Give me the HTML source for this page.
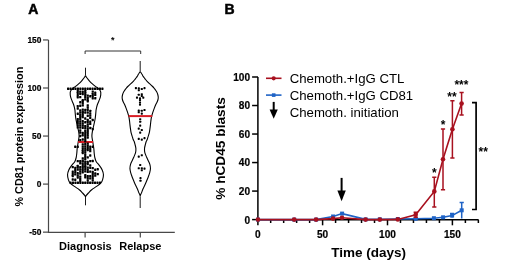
<!DOCTYPE html>
<html><head><meta charset="utf-8"><title>Figure</title><style>
html,body{margin:0;padding:0;background:#fff;}
body{width:520px;height:279px;overflow:hidden;}
svg{display:block;will-change:transform;}
text{font-family:"Liberation Sans",sans-serif;}
.pl{font-weight:bold;font-size:14px;stroke:#000;stroke-width:0.5px;}
.ta text{font-weight:bold;font-size:8.4px;text-anchor:end;stroke:#000;stroke-width:0.2px;}
.xa{font-weight:bold;font-size:11px;text-anchor:middle;}
.yla{font-weight:bold;font-size:10.8px;text-anchor:middle;}
.tb text{font-weight:bold;font-size:10.1px;text-anchor:end;stroke:#000;stroke-width:0.2px;}
.tbx text{font-weight:bold;font-size:10.1px;text-anchor:middle;stroke:#000;stroke-width:0.2px;}
.xb{font-weight:bold;font-size:13.5px;text-anchor:middle;}
.ylb{font-weight:bold;font-size:13.7px;text-anchor:middle;}
.lg{font-size:13.2px;}
.st{font-size:12px;font-weight:bold;text-anchor:middle;}
.st1{font-size:9px;font-weight:bold;text-anchor:middle;}
</style></head><body>
<svg width="520" height="279" viewBox="0 0 520 279">
<text x="28.2" y="14" class="pl">A</text>
<text x="224.6" y="14" class="pl">B</text>
<g stroke="#484848" stroke-width="1.2" fill="none">
<path d="M48.5,40 V232.3 H174.8"/>
<path d="M43,39.95 H48.5"/>
<path d="M43,88 H48.5"/>
<path d="M43,136.05 H48.5"/>
<path d="M43,184.1 H48.5"/>
<path d="M43,232.15 H48.5"/>
<path d="M85.1,232.3 V237.5 M140.3,232.3 V237.5"/>
</g>
<g class="ta">
<text x="41.4" y="43.05">150</text>
<text x="41.4" y="91.1">100</text>
<text x="41.4" y="139.15">50</text>
<text x="41.4" y="187.2">0</text>
<text x="41.4" y="235.25">-50</text>
</g>
<text x="85.4" y="250.2" class="xa">Diagnosis</text>
<text x="140.35" y="250.2" class="xa">Relapse</text>
<text transform="translate(22.6,136.6) rotate(-90)" class="yla">% CD81 protein expression</text>
<path d="M85.1,54 V51 H140.7 V54" stroke="#333" stroke-width="1" fill="none"/>
<text x="112.7" y="42.7" class="st1">*</text>
<g stroke="#000" stroke-width="1.1" fill="none">
<path d="M85.5,75.2 C85.5,75.8 85.74,75.93 86,76.4 C86.26,76.87 86.5,77.27 87.05,78 C87.6,78.73 88.46,79.87 89.3,80.8 C90.14,81.73 91.08,82.67 92.1,83.6 C93.12,84.53 94.4,85.62 95.4,86.4 C96.4,87.18 97.32,87.62 98.1,88.3 C98.88,88.98 99.65,89.78 100.1,90.5 C100.55,91.22 100.75,91.53 100.8,92.6 C100.85,93.67 100.73,95.47 100.4,96.9 C100.07,98.33 99.35,99.77 98.8,101.2 C98.25,102.63 97.55,104.07 97.1,105.5 C96.65,106.93 96.3,108.72 96.1,109.8 C95.9,110.88 96.05,110.55 95.9,112 C95.75,113.45 95.54,116.35 95.2,118.5 C94.86,120.65 94.32,122.75 93.85,124.9 C93.38,127.05 92.73,129.55 92.4,131.4 C92.08,133.25 91.88,134.52 91.9,136 C91.92,137.48 92.28,138.87 92.5,140.3 C92.72,141.73 92.98,143.17 93.2,144.6 C93.42,146.03 93.68,147.47 93.85,148.9 C94.02,150.33 94.04,151.77 94.2,153.2 C94.36,154.63 94.46,156.07 94.8,157.5 C95.14,158.93 95.57,160.57 96.25,161.8 C96.93,163.03 97.91,163.55 98.9,164.9 C99.89,166.25 101.44,168.25 102.2,169.9 C102.96,171.55 103.39,173.15 103.45,174.8 C103.51,176.45 103,178.42 102.55,179.8 C102.1,181.18 101.74,182 100.75,183.1 C99.76,184.2 98.11,185.3 96.6,186.4 C95.09,187.5 93.07,188.6 91.7,189.7 C90.33,190.8 89.3,192.05 88.4,193 C87.5,193.95 86.78,194.73 86.3,195.4 C85.82,196.07 85.5,196.2 85.5,197 C85.5,196.2 85.18,196.07 84.7,195.4 C84.22,194.73 83.5,193.95 82.6,193 C81.7,192.05 80.67,190.8 79.3,189.7 C77.93,188.6 75.91,187.5 74.4,186.4 C72.89,185.3 71.24,184.2 70.25,183.1 C69.26,182 68.9,181.18 68.45,179.8 C68,178.42 67.49,176.45 67.55,174.8 C67.61,173.15 68.04,171.55 68.8,169.9 C69.56,168.25 71.11,166.25 72.1,164.9 C73.09,163.55 74.07,163.03 74.75,161.8 C75.43,160.57 75.86,158.93 76.2,157.5 C76.54,156.07 76.64,154.63 76.8,153.2 C76.96,151.77 76.98,150.33 77.15,148.9 C77.32,147.47 77.58,146.03 77.8,144.6 C78.02,143.17 78.28,141.73 78.5,140.3 C78.72,138.87 79.08,137.48 79.1,136 C79.12,134.52 78.92,133.25 78.6,131.4 C78.27,129.55 77.62,127.05 77.15,124.9 C76.68,122.75 76.14,120.65 75.8,118.5 C75.46,116.35 75.25,113.45 75.1,112 C74.95,110.55 75.1,110.88 74.9,109.8 C74.7,108.72 74.35,106.93 73.9,105.5 C73.45,104.07 72.75,102.63 72.2,101.2 C71.65,99.77 70.93,98.33 70.6,96.9 C70.27,95.47 70.15,93.67 70.2,92.6 C70.25,91.53 70.45,91.22 70.9,90.5 C71.35,89.78 72.12,88.98 72.9,88.3 C73.68,87.62 74.6,87.18 75.6,86.4 C76.6,85.62 77.88,84.53 78.9,83.6 C79.92,82.67 80.86,81.73 81.7,80.8 C82.54,79.87 83.4,78.73 83.95,78 C84.5,77.27 84.74,76.87 85,76.4 C85.26,75.93 85.5,75.8 85.5,75.2Z"/>
<path d="M85.5,67.7 V75.2 M85.5,197 V205.3" stroke-width="0.9"/>
<path d="M140.2,71.2 C140.2,71.75 140.46,71.88 140.7,72.3 C140.94,72.72 141.35,73.22 141.65,73.7 C141.95,74.18 142.22,74.72 142.5,75.2 C142.78,75.68 143.03,76.13 143.35,76.6 C143.67,77.07 144.04,77.52 144.4,78 C144.76,78.48 145.1,79 145.5,79.5 C145.9,80 146.37,80.52 146.8,81 C147.23,81.48 147.52,81.85 148.1,82.4 C148.68,82.95 149.55,83.62 150.3,84.3 C151.05,84.98 151.92,85.78 152.6,86.5 C153.28,87.22 153.83,87.9 154.4,88.6 C154.97,89.3 155.53,89.98 156,90.7 C156.47,91.42 156.88,92.18 157.2,92.9 C157.52,93.62 157.72,94.28 157.9,95 C158.07,95.72 158.23,96.45 158.25,97.2 C158.27,97.95 158.19,98.7 158,99.5 C157.81,100.3 157.45,101.2 157.1,102 C156.75,102.8 156.39,103.2 155.9,104.3 C155.41,105.4 154.69,107.17 154.15,108.6 C153.61,110.03 153.1,111.47 152.65,112.9 C152.2,114.33 151.76,115.77 151.45,117.2 C151.14,118.63 150.96,120.32 150.8,121.5 C150.64,122.68 150.64,123.12 150.5,124.3 C150.36,125.48 150.16,127.17 149.95,128.6 C149.74,130.03 149.58,131.47 149.25,132.9 C148.92,134.33 148.29,136.1 147.95,137.2 C147.61,138.3 147.49,138.78 147.2,139.5 C146.91,140.22 146.5,140.7 146.2,141.5 C145.9,142.3 145.68,143.12 145.4,144.3 C145.12,145.48 144.58,147.17 144.5,148.6 C144.42,150.03 144.54,151.47 144.9,152.9 C145.26,154.33 146.15,156.02 146.65,157.2 C147.15,158.38 147.37,158.82 147.9,160 C148.43,161.18 149.42,162.87 149.85,164.3 C150.28,165.73 150.48,167.17 150.45,168.6 C150.42,170.03 150.03,171.47 149.65,172.9 C149.27,174.33 148.69,175.77 148.15,177.2 C147.61,178.63 146.97,180.15 146.4,181.5 C145.83,182.85 145.32,184.05 144.75,185.3 C144.18,186.55 143.47,187.78 142.95,189 C142.42,190.22 142.06,191.38 141.6,192.6 C141.14,193.82 140.2,194.45 140.2,196.3 C140.2,194.45 139.26,193.82 138.8,192.6 C138.34,191.38 137.97,190.22 137.45,189 C136.92,187.78 136.22,186.55 135.65,185.3 C135.07,184.05 134.57,182.85 134,181.5 C133.43,180.15 132.79,178.63 132.25,177.2 C131.71,175.77 131.13,174.33 130.75,172.9 C130.37,171.47 129.98,170.03 129.95,168.6 C129.92,167.17 130.12,165.73 130.55,164.3 C130.97,162.87 131.97,161.18 132.5,160 C133.03,158.82 133.25,158.38 133.75,157.2 C134.25,156.02 135.14,154.33 135.5,152.9 C135.86,151.47 135.98,150.03 135.9,148.6 C135.82,147.17 135.28,145.48 135,144.3 C134.72,143.12 134.5,142.3 134.2,141.5 C133.9,140.7 133.49,140.22 133.2,139.5 C132.91,138.78 132.79,138.3 132.45,137.2 C132.11,136.1 131.48,134.33 131.15,132.9 C130.82,131.47 130.66,130.03 130.45,128.6 C130.24,127.17 130.04,125.48 129.9,124.3 C129.76,123.12 129.76,122.68 129.6,121.5 C129.44,120.32 129.26,118.63 128.95,117.2 C128.64,115.77 128.2,114.33 127.75,112.9 C127.3,111.47 126.79,110.03 126.25,108.6 C125.71,107.17 124.99,105.4 124.5,104.3 C124.01,103.2 123.65,102.8 123.3,102 C122.95,101.2 122.59,100.3 122.4,99.5 C122.21,98.7 122.13,97.95 122.15,97.2 C122.17,96.45 122.32,95.72 122.5,95 C122.67,94.28 122.88,93.62 123.2,92.9 C123.52,92.18 123.93,91.42 124.4,90.7 C124.87,89.98 125.43,89.3 126,88.6 C126.57,87.9 127.12,87.22 127.8,86.5 C128.48,85.78 129.35,84.98 130.1,84.3 C130.85,83.62 131.72,82.95 132.3,82.4 C132.88,81.85 133.17,81.48 133.6,81 C134.03,80.52 134.5,80 134.9,79.5 C135.3,79 135.64,78.48 136,78 C136.36,77.52 136.73,77.07 137.05,76.6 C137.37,76.13 137.62,75.68 137.9,75.2 C138.18,74.72 138.45,74.18 138.75,73.7 C139.05,73.22 139.46,72.72 139.7,72.3 C139.94,71.88 140.2,71.75 140.2,71.2Z"/>
<path d="M140.2,61 V71.2 M140.2,196.3 V208" stroke-width="0.9"/>
</g>
<path d="M78.1,142 H93.1" stroke="#d81c24" stroke-width="2"/>
<path d="M128.5,116.1 H152.3" stroke="#d81c24" stroke-width="2"/>
<g fill="#000">
<rect x="76.65" y="89.71" width="2.2" height="2.4" rx="0.4"/>
<rect x="76.65" y="91.79" width="2.2" height="2.4" rx="0.4"/>
<rect x="76.65" y="93.96" width="2.2" height="2.4" rx="0.4"/>
<rect x="76.65" y="96.02" width="2.2" height="2.4" rx="0.4"/>
<rect x="79.15" y="90.4" width="2.2" height="2.4" rx="0.4"/>
<rect x="79.15" y="92.58" width="2.2" height="2.4" rx="0.4"/>
<rect x="79.15" y="95.9" width="2.2" height="2.4" rx="0.4"/>
<rect x="81.65" y="90.56" width="2.2" height="2.4" rx="0.4"/>
<rect x="81.65" y="92.76" width="2.2" height="2.4" rx="0.4"/>
<rect x="81.65" y="98.95" width="2.2" height="2.4" rx="0.4"/>
<rect x="84.15" y="89.75" width="2.2" height="2.4" rx="0.4"/>
<rect x="84.15" y="91.84" width="2.2" height="2.4" rx="0.4"/>
<rect x="84.15" y="93.84" width="2.2" height="2.4" rx="0.4"/>
<rect x="84.15" y="95.94" width="2.2" height="2.4" rx="0.4"/>
<rect x="84.15" y="98.18" width="2.2" height="2.4" rx="0.4"/>
<rect x="86.65" y="94.47" width="2.2" height="2.4" rx="0.4"/>
<rect x="86.65" y="96.7" width="2.2" height="2.4" rx="0.4"/>
<rect x="86.65" y="98.88" width="2.2" height="2.4" rx="0.4"/>
<rect x="89.15" y="94.99" width="2.2" height="2.4" rx="0.4"/>
<rect x="91.65" y="90.46" width="2.2" height="2.4" rx="0.4"/>
<rect x="91.65" y="92.74" width="2.2" height="2.4" rx="0.4"/>
<rect x="91.65" y="94.85" width="2.2" height="2.4" rx="0.4"/>
<rect x="91.65" y="97.12" width="2.2" height="2.4" rx="0.4"/>
<rect x="94.15" y="91.62" width="2.2" height="2.4" rx="0.4"/>
<rect x="94.15" y="93.64" width="2.2" height="2.4" rx="0.4"/>
<rect x="94.15" y="97.09" width="2.2" height="2.4" rx="0.4"/>
<rect x="76.65" y="105.06" width="2.2" height="2.4" rx="0.4"/>
<rect x="76.65" y="107.34" width="2.2" height="2.4" rx="0.4"/>
<rect x="79.15" y="101.09" width="2.2" height="2.4" rx="0.4"/>
<rect x="79.15" y="104.58" width="2.2" height="2.4" rx="0.4"/>
<rect x="79.15" y="109.34" width="2.2" height="2.4" rx="0.4"/>
<rect x="81.65" y="100.03" width="2.2" height="2.4" rx="0.4"/>
<rect x="81.65" y="102.12" width="2.2" height="2.4" rx="0.4"/>
<rect x="81.65" y="104.16" width="2.2" height="2.4" rx="0.4"/>
<rect x="81.65" y="108.4" width="2.2" height="2.4" rx="0.4"/>
<rect x="81.65" y="110.5" width="2.2" height="2.4" rx="0.4"/>
<rect x="84.15" y="108.75" width="2.2" height="2.4" rx="0.4"/>
<rect x="86.65" y="99.99" width="2.2" height="2.4" rx="0.4"/>
<rect x="86.65" y="104.15" width="2.2" height="2.4" rx="0.4"/>
<rect x="86.65" y="106.31" width="2.2" height="2.4" rx="0.4"/>
<rect x="86.65" y="108.51" width="2.2" height="2.4" rx="0.4"/>
<rect x="89.15" y="109.83" width="2.2" height="2.4" rx="0.4"/>
<rect x="76.65" y="112.48" width="2.2" height="2.4" rx="0.4"/>
<rect x="76.65" y="117.89" width="2.2" height="2.4" rx="0.4"/>
<rect x="76.65" y="120.03" width="2.2" height="2.4" rx="0.4"/>
<rect x="76.65" y="122.04" width="2.2" height="2.4" rx="0.4"/>
<rect x="76.65" y="124.14" width="2.2" height="2.4" rx="0.4"/>
<rect x="76.65" y="126.2" width="2.2" height="2.4" rx="0.4"/>
<rect x="79.15" y="111.39" width="2.2" height="2.4" rx="0.4"/>
<rect x="79.15" y="113.66" width="2.2" height="2.4" rx="0.4"/>
<rect x="79.15" y="115.78" width="2.2" height="2.4" rx="0.4"/>
<rect x="79.15" y="117.91" width="2.2" height="2.4" rx="0.4"/>
<rect x="79.15" y="120.16" width="2.2" height="2.4" rx="0.4"/>
<rect x="79.15" y="122.17" width="2.2" height="2.4" rx="0.4"/>
<rect x="79.15" y="124.19" width="2.2" height="2.4" rx="0.4"/>
<rect x="79.15" y="126.3" width="2.2" height="2.4" rx="0.4"/>
<rect x="81.65" y="111.61" width="2.2" height="2.4" rx="0.4"/>
<rect x="81.65" y="113.72" width="2.2" height="2.4" rx="0.4"/>
<rect x="81.65" y="115.9" width="2.2" height="2.4" rx="0.4"/>
<rect x="81.65" y="120.1" width="2.2" height="2.4" rx="0.4"/>
<rect x="81.65" y="122.37" width="2.2" height="2.4" rx="0.4"/>
<rect x="81.65" y="124.4" width="2.2" height="2.4" rx="0.4"/>
<rect x="81.65" y="126.59" width="2.2" height="2.4" rx="0.4"/>
<rect x="84.15" y="111.23" width="2.2" height="2.4" rx="0.4"/>
<rect x="84.15" y="117.26" width="2.2" height="2.4" rx="0.4"/>
<rect x="84.15" y="121.08" width="2.2" height="2.4" rx="0.4"/>
<rect x="84.15" y="124.92" width="2.2" height="2.4" rx="0.4"/>
<rect x="84.15" y="127.06" width="2.2" height="2.4" rx="0.4"/>
<rect x="86.65" y="111.24" width="2.2" height="2.4" rx="0.4"/>
<rect x="86.65" y="114.5" width="2.2" height="2.4" rx="0.4"/>
<rect x="86.65" y="118.75" width="2.2" height="2.4" rx="0.4"/>
<rect x="86.65" y="120.83" width="2.2" height="2.4" rx="0.4"/>
<rect x="86.65" y="123.13" width="2.2" height="2.4" rx="0.4"/>
<rect x="86.65" y="125.31" width="2.2" height="2.4" rx="0.4"/>
<rect x="86.65" y="127.51" width="2.2" height="2.4" rx="0.4"/>
<rect x="89.15" y="112.37" width="2.2" height="2.4" rx="0.4"/>
<rect x="89.15" y="114.47" width="2.2" height="2.4" rx="0.4"/>
<rect x="89.15" y="116.63" width="2.2" height="2.4" rx="0.4"/>
<rect x="89.15" y="120.62" width="2.2" height="2.4" rx="0.4"/>
<rect x="89.15" y="122.7" width="2.2" height="2.4" rx="0.4"/>
<rect x="89.15" y="126.79" width="2.2" height="2.4" rx="0.4"/>
<rect x="91.65" y="118.87" width="2.2" height="2.4" rx="0.4"/>
<rect x="91.65" y="127.89" width="2.2" height="2.4" rx="0.4"/>
<rect x="79.15" y="129.35" width="2.2" height="2.4" rx="0.4"/>
<rect x="79.15" y="131.45" width="2.2" height="2.4" rx="0.4"/>
<rect x="79.15" y="134.73" width="2.2" height="2.4" rx="0.4"/>
<rect x="79.15" y="138.97" width="2.2" height="2.4" rx="0.4"/>
<rect x="81.65" y="131.83" width="2.2" height="2.4" rx="0.4"/>
<rect x="81.65" y="134.08" width="2.2" height="2.4" rx="0.4"/>
<rect x="81.65" y="138.35" width="2.2" height="2.4" rx="0.4"/>
<rect x="84.15" y="129.72" width="2.2" height="2.4" rx="0.4"/>
<rect x="84.15" y="131.9" width="2.2" height="2.4" rx="0.4"/>
<rect x="84.15" y="133.95" width="2.2" height="2.4" rx="0.4"/>
<rect x="84.15" y="135.96" width="2.2" height="2.4" rx="0.4"/>
<rect x="84.15" y="138.08" width="2.2" height="2.4" rx="0.4"/>
<rect x="84.15" y="140.09" width="2.2" height="2.4" rx="0.4"/>
<rect x="86.65" y="129.68" width="2.2" height="2.4" rx="0.4"/>
<rect x="86.65" y="131.81" width="2.2" height="2.4" rx="0.4"/>
<rect x="86.65" y="133.99" width="2.2" height="2.4" rx="0.4"/>
<rect x="86.65" y="136.27" width="2.2" height="2.4" rx="0.4"/>
<rect x="81.65" y="143.21" width="2.2" height="2.4" rx="0.4"/>
<rect x="81.65" y="145.4" width="2.2" height="2.4" rx="0.4"/>
<rect x="81.65" y="147.56" width="2.2" height="2.4" rx="0.4"/>
<rect x="81.65" y="149.79" width="2.2" height="2.4" rx="0.4"/>
<rect x="81.65" y="151.83" width="2.2" height="2.4" rx="0.4"/>
<rect x="81.65" y="157.19" width="2.2" height="2.4" rx="0.4"/>
<rect x="81.65" y="159.39" width="2.2" height="2.4" rx="0.4"/>
<rect x="84.15" y="142.89" width="2.2" height="2.4" rx="0.4"/>
<rect x="84.15" y="145.16" width="2.2" height="2.4" rx="0.4"/>
<rect x="84.15" y="147.25" width="2.2" height="2.4" rx="0.4"/>
<rect x="84.15" y="149.26" width="2.2" height="2.4" rx="0.4"/>
<rect x="84.15" y="151.28" width="2.2" height="2.4" rx="0.4"/>
<rect x="84.15" y="153.56" width="2.2" height="2.4" rx="0.4"/>
<rect x="84.15" y="155.63" width="2.2" height="2.4" rx="0.4"/>
<rect x="84.15" y="157.92" width="2.2" height="2.4" rx="0.4"/>
<rect x="86.65" y="142.44" width="2.2" height="2.4" rx="0.4"/>
<rect x="86.65" y="144.55" width="2.2" height="2.4" rx="0.4"/>
<rect x="86.65" y="146.65" width="2.2" height="2.4" rx="0.4"/>
<rect x="86.65" y="148.75" width="2.2" height="2.4" rx="0.4"/>
<rect x="86.65" y="156.19" width="2.2" height="2.4" rx="0.4"/>
<rect x="89.15" y="147.9" width="2.2" height="2.4" rx="0.4"/>
<rect x="89.15" y="149.96" width="2.2" height="2.4" rx="0.4"/>
<rect x="89.15" y="154.37" width="2.2" height="2.4" rx="0.4"/>
<rect x="76.65" y="159.9" width="2.2" height="2.4" rx="0.4"/>
<rect x="76.65" y="164.75" width="2.2" height="2.4" rx="0.4"/>
<rect x="79.15" y="159.96" width="2.2" height="2.4" rx="0.4"/>
<rect x="79.15" y="162.03" width="2.2" height="2.4" rx="0.4"/>
<rect x="81.65" y="160.47" width="2.2" height="2.4" rx="0.4"/>
<rect x="81.65" y="162.76" width="2.2" height="2.4" rx="0.4"/>
<rect x="81.65" y="164.96" width="2.2" height="2.4" rx="0.4"/>
<rect x="84.15" y="160.53" width="2.2" height="2.4" rx="0.4"/>
<rect x="84.15" y="162.59" width="2.2" height="2.4" rx="0.4"/>
<rect x="84.15" y="164.66" width="2.2" height="2.4" rx="0.4"/>
<rect x="86.65" y="160.77" width="2.2" height="2.4" rx="0.4"/>
<rect x="86.65" y="162.87" width="2.2" height="2.4" rx="0.4"/>
<rect x="89.15" y="159.96" width="2.2" height="2.4" rx="0.4"/>
<rect x="89.15" y="164.13" width="2.2" height="2.4" rx="0.4"/>
<rect x="91.65" y="159.81" width="2.2" height="2.4" rx="0.4"/>
<rect x="71.65" y="165.89" width="2.2" height="2.4" rx="0.4"/>
<rect x="71.65" y="170.57" width="2.2" height="2.4" rx="0.4"/>
<rect x="71.65" y="172.64" width="2.2" height="2.4" rx="0.4"/>
<rect x="71.65" y="174.76" width="2.2" height="2.4" rx="0.4"/>
<rect x="71.65" y="178.29" width="2.2" height="2.4" rx="0.4"/>
<rect x="74.15" y="166.77" width="2.2" height="2.4" rx="0.4"/>
<rect x="74.15" y="168.92" width="2.2" height="2.4" rx="0.4"/>
<rect x="74.15" y="171.08" width="2.2" height="2.4" rx="0.4"/>
<rect x="74.15" y="173.18" width="2.2" height="2.4" rx="0.4"/>
<rect x="74.15" y="178.56" width="2.2" height="2.4" rx="0.4"/>
<rect x="76.65" y="166.29" width="2.2" height="2.4" rx="0.4"/>
<rect x="76.65" y="168.4" width="2.2" height="2.4" rx="0.4"/>
<rect x="76.65" y="172.08" width="2.2" height="2.4" rx="0.4"/>
<rect x="76.65" y="174.33" width="2.2" height="2.4" rx="0.4"/>
<rect x="76.65" y="176.36" width="2.2" height="2.4" rx="0.4"/>
<rect x="79.15" y="166.11" width="2.2" height="2.4" rx="0.4"/>
<rect x="79.15" y="168.14" width="2.2" height="2.4" rx="0.4"/>
<rect x="79.15" y="170.16" width="2.2" height="2.4" rx="0.4"/>
<rect x="79.15" y="172.34" width="2.2" height="2.4" rx="0.4"/>
<rect x="79.15" y="175.43" width="2.2" height="2.4" rx="0.4"/>
<rect x="79.15" y="177.51" width="2.2" height="2.4" rx="0.4"/>
<rect x="79.15" y="179.54" width="2.2" height="2.4" rx="0.4"/>
<rect x="81.65" y="166.55" width="2.2" height="2.4" rx="0.4"/>
<rect x="81.65" y="168.82" width="2.2" height="2.4" rx="0.4"/>
<rect x="81.65" y="171.05" width="2.2" height="2.4" rx="0.4"/>
<rect x="84.15" y="165.93" width="2.2" height="2.4" rx="0.4"/>
<rect x="84.15" y="167.98" width="2.2" height="2.4" rx="0.4"/>
<rect x="84.15" y="170.18" width="2.2" height="2.4" rx="0.4"/>
<rect x="84.15" y="174.04" width="2.2" height="2.4" rx="0.4"/>
<rect x="84.15" y="176.05" width="2.2" height="2.4" rx="0.4"/>
<rect x="86.65" y="166.41" width="2.2" height="2.4" rx="0.4"/>
<rect x="86.65" y="168.54" width="2.2" height="2.4" rx="0.4"/>
<rect x="86.65" y="170.64" width="2.2" height="2.4" rx="0.4"/>
<rect x="86.65" y="174.91" width="2.2" height="2.4" rx="0.4"/>
<rect x="86.65" y="177.06" width="2.2" height="2.4" rx="0.4"/>
<rect x="86.65" y="179.28" width="2.2" height="2.4" rx="0.4"/>
<rect x="89.15" y="166.59" width="2.2" height="2.4" rx="0.4"/>
<rect x="89.15" y="170.38" width="2.2" height="2.4" rx="0.4"/>
<rect x="89.15" y="174.92" width="2.2" height="2.4" rx="0.4"/>
<rect x="89.15" y="177.21" width="2.2" height="2.4" rx="0.4"/>
<rect x="91.65" y="166.9" width="2.2" height="2.4" rx="0.4"/>
<rect x="91.65" y="170.64" width="2.2" height="2.4" rx="0.4"/>
<rect x="91.65" y="172.72" width="2.2" height="2.4" rx="0.4"/>
<rect x="91.65" y="174.89" width="2.2" height="2.4" rx="0.4"/>
<rect x="91.65" y="177.11" width="2.2" height="2.4" rx="0.4"/>
<rect x="91.65" y="179.22" width="2.2" height="2.4" rx="0.4"/>
<rect x="94.15" y="168.57" width="2.2" height="2.4" rx="0.4"/>
<rect x="94.15" y="172.35" width="2.2" height="2.4" rx="0.4"/>
<rect x="94.15" y="174.4" width="2.2" height="2.4" rx="0.4"/>
<rect x="96.65" y="167.99" width="2.2" height="2.4" rx="0.4"/>
<rect x="96.65" y="172.89" width="2.2" height="2.4" rx="0.4"/>
<rect x="67" y="87.6" width="2.2" height="2.4" rx="0.4"/>
<rect x="69.45" y="87.6" width="2.2" height="2.4" rx="0.4"/>
<rect x="71.9" y="87.6" width="2.2" height="2.4" rx="0.4"/>
<rect x="74.35" y="87.6" width="2.2" height="2.4" rx="0.4"/>
<rect x="76.8" y="87.6" width="2.2" height="2.4" rx="0.4"/>
<rect x="79.25" y="87.6" width="2.2" height="2.4" rx="0.4"/>
<rect x="81.7" y="87.6" width="2.2" height="2.4" rx="0.4"/>
<rect x="84.15" y="87.6" width="2.2" height="2.4" rx="0.4"/>
<rect x="86.6" y="87.6" width="2.2" height="2.4" rx="0.4"/>
<rect x="89.05" y="87.6" width="2.2" height="2.4" rx="0.4"/>
<rect x="91.5" y="87.6" width="2.2" height="2.4" rx="0.4"/>
<rect x="93.95" y="87.6" width="2.2" height="2.4" rx="0.4"/>
<rect x="96.4" y="87.6" width="2.2" height="2.4" rx="0.4"/>
<rect x="98.85" y="87.6" width="2.2" height="2.4" rx="0.4"/>
<rect x="101.3" y="87.6" width="2.2" height="2.4" rx="0.4"/>
<rect x="74.15" y="145.6" width="2.2" height="2.4" rx="0.4"/>
<rect x="76.65" y="145.6" width="2.2" height="2.4" rx="0.4"/>
<rect x="89.15" y="145.6" width="2.2" height="2.4" rx="0.4"/>
<rect x="91.65" y="145.6" width="2.2" height="2.4" rx="0.4"/>
<rect x="69.45" y="181.5" width="2.2" height="2.4" rx="0.4"/>
<rect x="71.9" y="181.5" width="2.2" height="2.4" rx="0.4"/>
<rect x="74.35" y="181.5" width="2.2" height="2.4" rx="0.4"/>
<rect x="76.8" y="181.5" width="2.2" height="2.4" rx="0.4"/>
<rect x="79.25" y="181.5" width="2.2" height="2.4" rx="0.4"/>
<rect x="81.7" y="181.5" width="2.2" height="2.4" rx="0.4"/>
<rect x="84.15" y="181.5" width="2.2" height="2.4" rx="0.4"/>
<rect x="86.6" y="181.5" width="2.2" height="2.4" rx="0.4"/>
<rect x="89.05" y="181.5" width="2.2" height="2.4" rx="0.4"/>
<rect x="91.5" y="181.5" width="2.2" height="2.4" rx="0.4"/>
<rect x="93.95" y="181.5" width="2.2" height="2.4" rx="0.4"/>
<rect x="96.4" y="181.5" width="2.2" height="2.4" rx="0.4"/>
<rect x="98.85" y="181.5" width="2.2" height="2.4" rx="0.4"/>
<rect x="134.85" y="87.05" width="2.1" height="2.1" rx="0.6"/>
<rect x="137.75" y="87.35" width="2.1" height="2.1" rx="0.6"/>
<rect x="137.75" y="89.25" width="2.1" height="2.1" rx="0.6"/>
<rect x="140.75" y="87.95" width="2.1" height="2.1" rx="0.6"/>
<rect x="143.45" y="87.05" width="2.1" height="2.1" rx="0.6"/>
<rect x="137.75" y="93.7" width="2.1" height="2.1" rx="0.6"/>
<rect x="140.75" y="93.15" width="2.1" height="2.1" rx="0.6"/>
<rect x="140.75" y="94.95" width="2.1" height="2.1" rx="0.6"/>
<rect x="135.95" y="96.55" width="2.1" height="2.1" rx="0.6"/>
<rect x="138.95" y="97.15" width="2.1" height="2.1" rx="0.6"/>
<rect x="142.25" y="96.55" width="2.1" height="2.1" rx="0.6"/>
<rect x="138.95" y="99.05" width="2.1" height="2.1" rx="0.6"/>
<rect x="138.95" y="101.45" width="2.1" height="2.1" rx="0.6"/>
<rect x="138.95" y="103.55" width="2.1" height="2.1" rx="0.6"/>
<rect x="137.7" y="109.55" width="2.1" height="2.1" rx="0.6"/>
<rect x="137.7" y="111.15" width="2.1" height="2.1" rx="0.6"/>
<rect x="140.75" y="109.75" width="2.1" height="2.1" rx="0.6"/>
<rect x="143.45" y="108.95" width="2.1" height="2.1" rx="0.6"/>
<rect x="140.75" y="112.55" width="2.1" height="2.1" rx="0.6"/>
<rect x="139.15" y="118.15" width="2.1" height="2.1" rx="0.6"/>
<rect x="139.15" y="120.75" width="2.1" height="2.1" rx="0.6"/>
<rect x="139.15" y="124.55" width="2.1" height="2.1" rx="0.6"/>
<rect x="137.7" y="127.55" width="2.1" height="2.1" rx="0.6"/>
<rect x="140.75" y="128.95" width="2.1" height="2.1" rx="0.6"/>
<rect x="139.15" y="131.55" width="2.1" height="2.1" rx="0.6"/>
<rect x="137.7" y="137.85" width="2.1" height="2.1" rx="0.6"/>
<rect x="140.75" y="138.55" width="2.1" height="2.1" rx="0.6"/>
<rect x="143.45" y="137.05" width="2.1" height="2.1" rx="0.6"/>
<rect x="137.7" y="155.55" width="2.1" height="2.1" rx="0.6"/>
<rect x="140.75" y="154.25" width="2.1" height="2.1" rx="0.6"/>
<rect x="139.15" y="163.95" width="2.1" height="2.1" rx="0.6"/>
<rect x="137.7" y="167.15" width="2.1" height="2.1" rx="0.6"/>
<rect x="140.75" y="167.15" width="2.1" height="2.1" rx="0.6"/>
<rect x="140.75" y="169.15" width="2.1" height="2.1" rx="0.6"/>
<rect x="143.45" y="167.55" width="2.1" height="2.1" rx="0.6"/>
<rect x="139.45" y="177.05" width="2.1" height="2.1" rx="0.6"/>
<rect x="139.45" y="179.65" width="2.1" height="2.1" rx="0.6"/>
</g>
<g stroke="#000" stroke-width="1.5" fill="none">
<path d="M257.9,77 V225.3"/>
<path d="M257.2,219.8 H478.6"/>
<path d="M252.1,219.6 H258"/>
<path d="M252.1,191.08 H258"/>
<path d="M252.1,162.56 H258"/>
<path d="M252.1,134.04 H258"/>
<path d="M252.1,105.52 H258"/>
<path d="M252.1,77 H258"/>
<path d="M270.68,219.8 V223"/>
<path d="M283.66,219.8 V223"/>
<path d="M296.64,219.8 V223"/>
<path d="M309.62,219.8 V223"/>
<path d="M322.6,219.8 V225.3"/>
<path d="M335.58,219.8 V223"/>
<path d="M348.56,219.8 V223"/>
<path d="M361.54,219.8 V223"/>
<path d="M374.52,219.8 V223"/>
<path d="M387.5,219.8 V225.3"/>
<path d="M400.48,219.8 V223"/>
<path d="M413.46,219.8 V223"/>
<path d="M426.44,219.8 V223"/>
<path d="M439.42,219.8 V223"/>
<path d="M452.4,219.8 V225.3"/>
<path d="M465.38,219.8 V223"/>
<path d="M478.36,219.8 V223"/>
</g>
<g class="tb">
<text x="250" y="223.5">0</text>
<text x="250" y="194.98">20</text>
<text x="250" y="166.46">40</text>
<text x="250" y="137.94">60</text>
<text x="250" y="109.42">80</text>
<text x="250" y="80.9">100</text>
</g>
<g class="tbx">
<text x="257.7" y="237.7">0</text>
<text x="322.6" y="237.7">50</text>
<text x="387.5" y="237.7">100</text>
<text x="452.4" y="237.7">150</text>
</g>
<text x="368.7" y="257.3" class="xb">Time (days)</text>
<text transform="translate(225,148.5) rotate(-90)" class="ylb">% hCD45 blasts</text>
<g stroke="#1f63c6" fill="#1f63c6">
<polyline fill="none" stroke-width="1.6" points="258,219.6 294.2,219.6 316.1,219.6 333.1,216.5 342.1,213.6 365.6,219.4 379.8,219.3 397.8,219 415.7,218.8 433.9,218.2 443.1,217.3 452.1,215.6 461.7,210.3"/>
<path d="M461.7,202.5 V218.5 M459.6,202.5 H463.8" stroke-width="1.5" fill="none"/>
<path d="M452.1,213.5 V217.6 M450,213.5 H454.2" stroke-width="1.5" fill="none"/>
<rect x="256" y="217.6" width="4" height="4" stroke="none"/>
<rect x="292.2" y="217.6" width="4" height="4" stroke="none"/>
<rect x="314.1" y="217.6" width="4" height="4" stroke="none"/>
<rect x="331.1" y="214.5" width="4" height="4" stroke="none"/>
<rect x="340.1" y="211.6" width="4" height="4" stroke="none"/>
<rect x="363.6" y="217.4" width="4" height="4" stroke="none"/>
<rect x="377.8" y="217.3" width="4" height="4" stroke="none"/>
<rect x="395.8" y="217" width="4" height="4" stroke="none"/>
<rect x="413.7" y="216.8" width="4" height="4" stroke="none"/>
<rect x="431.9" y="216.2" width="4" height="4" stroke="none"/>
<rect x="441.1" y="215.3" width="4" height="4" stroke="none"/>
<rect x="450.1" y="213.6" width="4" height="4" stroke="none"/>
<rect x="459.7" y="208.3" width="4" height="4" stroke="none"/>
</g>
<g stroke="#a8111f" fill="#a8111f">
<polyline fill="none" stroke-width="1.6" points="258,219.6 294.2,219.6 316.1,219.6 333,218.6 342,217.8 365.6,219.6 379.8,219.6 397.8,219.4 415.7,214.8 434.3,191.4 443,159.2 452.4,129.3 461.6,103.6"/>
<path d="M415.7,212.2 V217.2 M413.6,212.2 H417.8 M413.6,217.2 H417.8" stroke-width="1.5" fill="none"/>
<path d="M434.3,177.3 V207 M432.2,177.3 H436.4 M432.2,207 H436.4" stroke-width="1.5" fill="none"/>
<path d="M443,129 V189.7 M440.9,129 H445.1 M440.9,189.7 H445.1" stroke-width="1.5" fill="none"/>
<path d="M452.4,100.7 V158 M450.3,100.7 H454.5 M450.3,158 H454.5" stroke-width="1.5" fill="none"/>
<path d="M461.6,92.4 V115 M459.5,92.4 H463.7 M459.5,115 H463.7" stroke-width="1.5" fill="none"/>
<circle cx="258" cy="219.6" r="2.3" stroke="none"/>
<circle cx="294.2" cy="219.6" r="2.3" stroke="none"/>
<circle cx="316.1" cy="219.6" r="2.3" stroke="none"/>
<circle cx="333" cy="218.6" r="2.3" stroke="none"/>
<circle cx="342" cy="217.8" r="2.3" stroke="none"/>
<circle cx="365.6" cy="219.6" r="2.3" stroke="none"/>
<circle cx="379.8" cy="219.6" r="2.3" stroke="none"/>
<circle cx="397.8" cy="219.4" r="2.3" stroke="none"/>
<circle cx="415.7" cy="214.8" r="2.3" stroke="none"/>
<circle cx="434.3" cy="191.4" r="2.3" stroke="none"/>
<circle cx="443" cy="159.2" r="2.3" stroke="none"/>
<circle cx="452.4" cy="129.3" r="2.3" stroke="none"/>
<circle cx="461.6" cy="103.6" r="2.3" stroke="none"/>
</g>
<text x="434.3" y="176.9" class="st">*</text>
<text x="443.1" y="129" class="st">*</text>
<text x="452" y="101.2" class="st">**</text>
<text x="461.4" y="88.6" class="st">***</text>
<text x="483.2" y="155.8" class="st">**</text>
<path d="M472,102.6 H476.1 V209.5 H472" stroke="#000" stroke-width="1.7" fill="none"/>
<path d="M341.6,177.9 V192" stroke="#000" stroke-width="2"/>
<path d="M337.4,190.6 H345.8 L341.6,201.2 Z" fill="#000"/>
<path d="M266,78.3 H281.5" stroke="#a8111f" stroke-width="1.6"/>
<circle cx="273.7" cy="78.3" r="2.1" fill="#a8111f"/>
<path d="M266,95.1 H281.5" stroke="#1f63c6" stroke-width="1.6"/>
<rect x="271.9" y="93.3" width="3.6" height="3.6" fill="#1f63c6"/>
<path d="M273.7,101.9 V111" stroke="#000" stroke-width="2"/>
<path d="M269.6,109.6 H277.8 L273.7,118.8 Z" fill="#000"/>
<text x="289.7" y="83.1" class="lg">Chemoth.+IgG CTL</text>
<text x="289.7" y="100.3" class="lg">Chemoth.+IgG CD81</text>
<text x="289.7" y="117.1" class="lg">Chemoth. initiation</text>
</svg>
</body></html>
